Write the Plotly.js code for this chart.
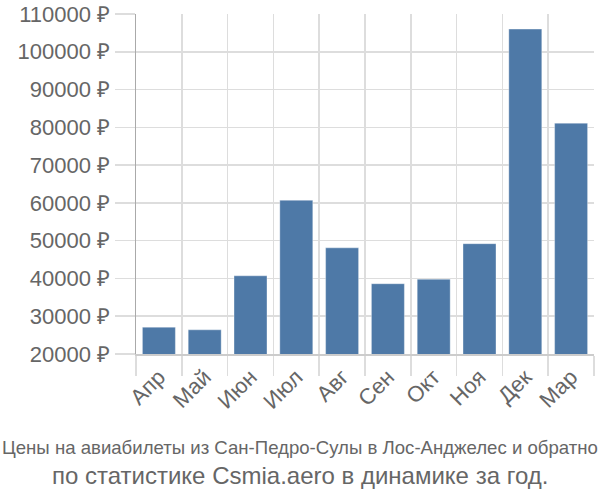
<!DOCTYPE html>
<html>
<head>
<meta charset="utf-8">
<script src="https://cdn.plot.ly/plotly-3.0.1.min.js"></script>
<style>html,body{margin:0;padding:0;background:#fff}#chart{width:600px;height:500px}</style>
</head>
<body>
<div id="chart"></div>
<script>
const months = ["Апр","Май","Июн","Июл","Авг","Сен","Окт","Ноя","Дек","Мар"];
const prices = [27100, 26400, 40700, 60700, 48100, 38600, 39800, 49200, 106000, 81100];
const titleLine1 = "Цены на авиабилеты из Сан-Педро-Сулы в Лос-Анджелес и обратно";
const titleLine2 = "по статистике Csmia.aero в динамике за год.";
const currency = " ₽";

const trace = {
  type: "bar",
  x: months,
  y: prices,
  base: 0,
  marker: {color: "#4e79a7", line: {color: "rgba(255,255,255,0.35)", width: 1}},
  hoverinfo: "none"
};

const L = 136, R = 6, T = 14, B = 146, W = 600, H = 500;
const pw = W - L - R, ph = H - T - B;

const layout = {
  width: W, height: H,
  margin: {l: L, r: R, t: T, b: B},
  paper_bgcolor: "#fff", plot_bgcolor: "#fff",
  showlegend: false,
  bargap: 0.28,
  font: {family: "Liberation Sans, Arial, sans-serif", color: "#666"},
  xaxis: {
    type: "category",
    tickson: "boundaries",
    showgrid: true, gridcolor: "#ddd", gridwidth: 1.5,
    ticks: "outside", ticklen: 20, tickcolor: "#ddd", tickwidth: 1.5,
    tickangle: -45,
    tickfont: {size: 22, color: "#666"},
    showline: true, linecolor: "#ccc", linewidth: 1.5,
    zeroline: false, fixedrange: true
  },
  yaxis: {
    range: [20000, 110000],
    dtick: 10000,
    tickformat: "d",
    ticksuffix: currency,
    showgrid: true, gridcolor: "#ddd", gridwidth: 1.5,
    ticks: "outside", ticklen: 20, tickcolor: "#ddd", tickwidth: 1.5,
    tickfont: {size: 22, color: "#666"},
    showline: true, linecolor: "#aaa", linewidth: 1.5,
    zeroline: false, fixedrange: true
  },
  annotations: [
    {text: titleLine1, xref: "paper", yref: "paper", x: (300 - L) / pw, y: (H - B - 447) / ph, showarrow: false,
     xanchor: "center", yanchor: "middle",
     font: {family: "Liberation Sans, Arial, sans-serif", size: 18.6, color: "#666"}},
    {text: titleLine2, xref: "paper", yref: "paper", x: (300 - L) / pw, y: (H - B - 475) / ph, showarrow: false,
     xanchor: "center", yanchor: "middle",
     font: {family: "Liberation Sans, Arial, sans-serif", size: 24, color: "#666"}}
  ]
};

Plotly.newPlot("chart", [trace], layout, {displayModeBar: false, staticPlot: true});
</script>
</body>
</html>
